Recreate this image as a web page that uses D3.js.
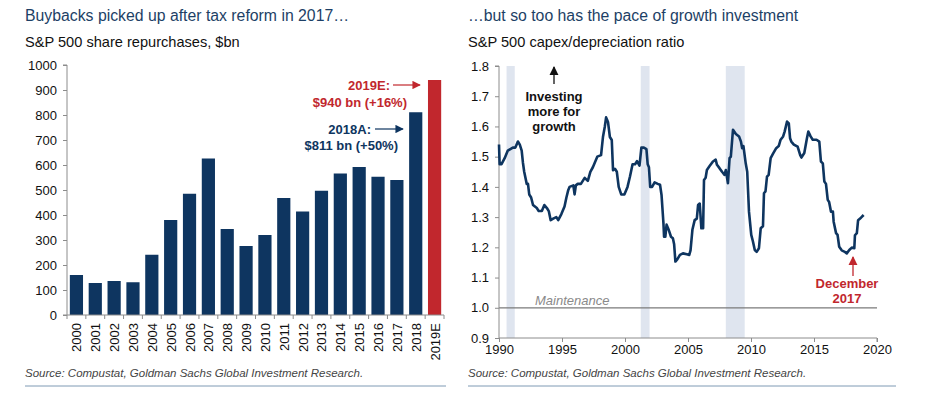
<!DOCTYPE html>
<html>
<head>
<meta charset="utf-8">
<script src="https://cdn.jsdelivr.net/npm/d3@7"></script>
<style>
  body { margin: 0; background: #fff; font-family: "Liberation Sans", Arial, sans-serif; }
  .axis path, .axis line { stroke: #8c8c8c; }
  .axis text { font-family: "Liberation Sans", Arial, sans-serif; font-size: 13px; fill: #111; }
  .title { font-size: 15.8px; fill: #1d3f66; }
  .subtitle { font-size: 14.6px; fill: #111; }
  .source { font-size: 11.5px; font-style: italic; fill: #444; }
  .note { font-size: 13px; font-weight: bold; }
</style>
</head>
<body>
<div id="vis"></div>
<script>
// Left chart data: S&P 500 buybacks, $bn
var buybackYears = ['2000', '2001', '2002', '2003', '2004', '2005', '2006', '2007', '2008', '2009',
    '2010', '2011', '2012', '2013', '2014', '2015', '2016', '2017', '2018', '2019E'];
var buybackValues = [160, 128, 136, 131, 241, 380, 485, 626, 344, 276,
    320, 468, 414, 497, 566, 592, 553, 540, 811, 940];
var buybackTicks = [0, 100, 200, 300, 400, 500, 600, 700, 800, 900, 1000];

// Right chart data: capex/depreciation ratio
var capexDates = [1990.0, 1990.05, 1990.2, 1990.45, 1990.7, 1991.1, 1991.3, 1991.5, 1991.65, 1991.8, 1991.9,
    1992.0, 1992.2, 1992.3, 1992.4, 1992.55, 1992.7, 1993.0, 1993.15, 1993.4, 1993.6, 1993.8, 1993.95,
    1994.1, 1994.3, 1994.55, 1994.7, 1994.95, 1995.2, 1995.35, 1995.5, 1995.6, 1995.9, 1996.0, 1996.1,
    1996.25, 1996.5, 1996.8, 1997.05, 1997.25, 1997.45, 1997.6, 1997.8, 1998.1, 1998.25, 1998.4, 1998.5,
    1998.65, 1998.8, 1998.95, 1999.05, 1999.2, 1999.35, 1999.5, 1999.7, 1999.95, 2000.2, 2000.4, 2000.6,
    2000.8, 2000.95, 2001.15, 2001.3, 2001.5, 2001.7, 2001.8, 2001.9, 2002.0, 2002.15, 2002.35, 2002.6,
    2002.78, 2002.9, 2003.05, 2003.1, 2003.2, 2003.3, 2003.45, 2003.65, 2003.8, 2003.9, 2004.0, 2004.15,
    2004.36, 2004.6, 2004.9, 2005.1, 2005.2, 2005.35, 2005.53, 2005.7, 2005.8, 2005.93, 2006.06, 2006.2,
    2006.27, 2006.4, 2006.5, 2006.7, 2006.98, 2007.2, 2007.3, 2007.5, 2007.7, 2007.9, 2008.0, 2008.17,
    2008.3, 2008.4, 2008.57, 2008.8, 2009.05, 2009.2, 2009.3, 2009.4, 2009.58, 2009.7, 2009.84, 2010.02,
    2010.15, 2010.3, 2010.45, 2010.63, 2010.77, 2010.95, 2011.03, 2011.15, 2011.27, 2011.4, 2011.56,
    2011.75, 2012.0, 2012.2, 2012.35, 2012.55, 2012.67, 2012.86, 2013.0, 2013.1, 2013.2, 2013.4, 2013.7,
    2013.9, 2014.0, 2014.23, 2014.44, 2014.55, 2014.73, 2014.9, 2015.2, 2015.42, 2015.55, 2015.7, 2015.82,
    2015.95, 2016.09, 2016.2, 2016.35, 2016.5, 2016.56, 2016.75, 2016.87, 2017.0, 2017.2, 2017.4, 2017.6,
    2017.8, 2018.0, 2018.2, 2018.25, 2018.4, 2018.5, 2018.73, 2018.94];
var capexRatio = [1.54, 1.475, 1.475, 1.495, 1.52, 1.53, 1.53, 1.55, 1.54, 1.52, 1.48,
    1.45, 1.41, 1.41, 1.375, 1.365, 1.34, 1.33, 1.32, 1.32, 1.34, 1.33, 1.32,
    1.29, 1.295, 1.30, 1.29, 1.31, 1.335, 1.365, 1.39, 1.40, 1.405, 1.375, 1.405,
    1.41, 1.41, 1.43, 1.42, 1.45, 1.465, 1.48, 1.50, 1.505, 1.565, 1.60, 1.63,
    1.615, 1.565, 1.555, 1.455, 1.46, 1.45, 1.40, 1.375, 1.375, 1.40, 1.435, 1.475,
    1.475, 1.485, 1.47, 1.53, 1.53, 1.525, 1.475, 1.465, 1.40, 1.40, 1.415, 1.41,
    1.407, 1.373, 1.28, 1.235, 1.235, 1.275, 1.26, 1.235, 1.23, 1.21, 1.153, 1.16,
    1.175, 1.18, 1.177, 1.175, 1.19, 1.258, 1.29, 1.295, 1.34, 1.345, 1.263, 1.263,
    1.423, 1.43, 1.456, 1.468, 1.484, 1.49, 1.473, 1.462, 1.45, 1.44, 1.456, 1.412,
    1.495, 1.50, 1.589, 1.575, 1.567, 1.55, 1.528, 1.535, 1.478, 1.45, 1.318, 1.241,
    1.22, 1.191, 1.185, 1.197, 1.263, 1.27, 1.379, 1.385, 1.434, 1.44, 1.495,
    1.51, 1.528, 1.535, 1.556, 1.567, 1.583, 1.616, 1.61, 1.561, 1.55, 1.54, 1.533,
    1.506, 1.497, 1.512, 1.561, 1.583, 1.567, 1.556, 1.556, 1.55, 1.484, 1.478, 1.418,
    1.41, 1.357, 1.35, 1.318, 1.318, 1.285, 1.247, 1.241, 1.202, 1.19, 1.186, 1.18,
    1.191, 1.199, 1.197, 1.24, 1.247, 1.29, 1.298, 1.307];
var recessions = [[1990.6, 1991.25], [2001.25, 2001.95], [2008.0, 2009.5]];
var ratioTicks = [0.9, 1.0, 1.1, 1.2, 1.3, 1.4, 1.5, 1.6, 1.7, 1.8];
var yearTicks = [1990, 1995, 2000, 2005, 2010, 2015, 2020];

var navy = '#0e3560';
var red = '#c1272d';

var width = 929;
var height = 394;

var svg = d3.select('#vis')
    .append('svg')
    .attr('width', width)
    .attr('height', height);

// Arrow heads
var defs = svg.append('defs');
[['arrowNavy', navy], ['arrowRed', red], ['arrowBlack', '#111']].forEach(function (a) {
    defs.append('marker')
        .attr('id', a[0])
        .attr('viewBox', '0 0 10 10')
        .attr('refX', 9).attr('refY', 5)
        .attr('markerWidth', 7).attr('markerHeight', 7)
        .attr('orient', 'auto')
        .append('path')
        .attr('d', 'M0,0 L10,5 L0,10 z')
        .attr('fill', a[1]);
});

// ---------- Left panel: buybacks bar chart ----------
var left = { x0: 67, x1: 444, yTop: 65, yBottom: 315 };

svg.append('text').attr('class', 'title').attr('x', 25).attr('y', 21)
    .text('Buybacks picked up after tax reform in 2017…');
svg.append('text').attr('class', 'subtitle').attr('x', 25).attr('y', 47)
    .text('S&P 500 share repurchases, $bn');

var xBand = d3.scaleBand()
    .domain(buybackYears)
    .range([left.x0, left.x1])
    .paddingInner(0.3)
    .paddingOuter(0.15);

var yBuy = d3.scaleLinear()
    .domain([0, 1000])
    .range([left.yBottom, left.yTop]);

svg.append('g')
    .attr('class', 'axis')
    .attr('transform', 'translate(' + left.x0 + ',0)')
    .call(d3.axisLeft(yBuy).tickValues(buybackTicks).tickSize(4).tickPadding(6).tickFormat(d3.format('d')))
    .call(function (g) { g.select('.domain').attr('d', 'M-4,' + left.yTop + 'H0V' + left.yBottom + 'H-4'); });

svg.selectAll('.bar')
    .data(buybackYears)
    .enter().append('rect')
    .attr('class', 'bar')
    .attr('x', function (d) { return xBand(d); })
    .attr('width', xBand.bandwidth())
    .attr('y', function (d, i) { return yBuy(buybackValues[i]); })
    .attr('height', function (d, i) { return left.yBottom - yBuy(buybackValues[i]); })
    .attr('fill', function (d) { return d === '2019E' ? red : navy; });

// x axis: baseline plus ticks at band boundaries
var xAxisG = svg.append('g').attr('class', 'axis');
xAxisG.append('line')
    .attr('x1', left.x0).attr('x2', left.x1)
    .attr('y1', left.yBottom).attr('y2', left.yBottom);
var step = xBand.step();
xAxisG.selectAll('.tk')
    .data(d3.range(buybackYears.length + 1))
    .enter().append('line')
    .attr('x1', function (i) { return left.x0 + i * step; })
    .attr('x2', function (i) { return left.x0 + i * step; })
    .attr('y1', left.yBottom).attr('y2', left.yBottom + 4);
xAxisG.selectAll('.lbl')
    .data(buybackYears)
    .enter().append('text')
    .attr('transform', function (d) {
        return 'translate(' + (xBand(d) + xBand.bandwidth() / 2 + 5) + ',' + (left.yBottom + 8) + ') rotate(-90)';
    })
    .attr('text-anchor', 'end')
    .text(function (d) { return d; });

// Annotations
var ann = svg.append('g').attr('class', 'note');
ann.append('text').attr('x', 390).attr('y', 90).attr('text-anchor', 'end').attr('fill', red).text('2019E:');
ann.append('text').attr('x', 407).attr('y', 107).attr('text-anchor', 'end').attr('fill', red).text('$940 bn (+16%)');
ann.append('line').attr('x1', 393).attr('x2', 420).attr('y1', 85).attr('y2', 85)
    .attr('stroke', red).attr('stroke-width', 1.2).attr('marker-end', 'url(#arrowRed)');
ann.append('text').attr('x', 371).attr('y', 134).attr('text-anchor', 'end').attr('fill', navy).text('2018A:');
ann.append('text').attr('x', 398).attr('y', 150).attr('text-anchor', 'end').attr('fill', navy).text('$811 bn (+50%)');
ann.append('line').attr('x1', 375).attr('x2', 403).attr('y1', 129).attr('y2', 129)
    .attr('stroke', navy).attr('stroke-width', 1.2).attr('marker-end', 'url(#arrowNavy)');

svg.append('text').attr('class', 'source').attr('x', 25).attr('y', 377)
    .text('Source: Compustat, Goldman Sachs Global Investment Research.');
svg.append('line').attr('x1', 25).attr('x2', 446).attr('y1', 386).attr('y2', 386)
    .attr('stroke', '#7f9ab4').attr('stroke-width', 1);

// ---------- Right panel: capex/depreciation line ----------
var right = { x0: 499, x1: 877, yTop: 66, yBottom: 338 };

svg.append('text').attr('class', 'title').attr('x', 468).attr('y', 21)
    .text('…but so too has the pace of growth investment');
svg.append('text').attr('class', 'subtitle').attr('x', 468).attr('y', 47)
    .text('S&P 500 capex/depreciation ratio');

var xYear = d3.scaleLinear().domain([1990, 2020]).range([right.x0, right.x1]);
var yRatio = d3.scaleLinear().domain([0.9, 1.8]).range([right.yBottom, right.yTop]);

svg.selectAll('.rec')
    .data(recessions)
    .enter().append('rect')
    .attr('class', 'rec')
    .attr('x', function (d) { return xYear(d[0]); })
    .attr('width', function (d) { return xYear(d[1]) - xYear(d[0]); })
    .attr('y', right.yTop)
    .attr('height', right.yBottom - right.yTop)
    .attr('fill', '#dfe5ef');

svg.append('line')
    .attr('x1', xYear(1990)).attr('x2', xYear(2020))
    .attr('y1', yRatio(1.0)).attr('y2', yRatio(1.0))
    .attr('stroke', '#7a7a7a').attr('stroke-width', 1.3);
svg.append('text')
    .attr('x', 535).attr('y', yRatio(1.0) - 3)
    .attr('font-size', 13).attr('font-style', 'italic').attr('fill', '#8a8a8a')
    .text('Maintenance');

svg.append('g')
    .attr('class', 'axis')
    .attr('transform', 'translate(' + right.x0 + ',0)')
    .call(d3.axisLeft(yRatio).tickValues(ratioTicks).tickSize(4).tickPadding(6).tickFormat(d3.format('.1f')))
    .call(function (g) { g.select('.domain').attr('d', 'M-4,' + right.yTop + 'H0V' + right.yBottom); });

svg.append('g')
    .attr('class', 'axis')
    .attr('transform', 'translate(0,' + right.yBottom + ')')
    .call(d3.axisBottom(xYear).tickValues(yearTicks).tickSize(4).tickPadding(3).tickFormat(d3.format('d')))
    .call(function (g) { g.select('.domain').attr('d', 'M' + right.x0 + ',0H' + right.x1 + 'V4'); });

var line = d3.line()
    .x(function (d, i) { return xYear(capexDates[i]); })
    .y(function (d) { return yRatio(d); });

svg.append('path')
    .datum(capexRatio)
    .attr('d', line)
    .attr('fill', 'none')
    .attr('stroke', navy)
    .attr('stroke-width', 2.6)
    .attr('stroke-linejoin', 'round');

// "Investing more for growth" note
var inv = svg.append('g').attr('class', 'note').attr('fill', '#111').attr('text-anchor', 'middle');
inv.append('line').attr('x1', 554).attr('x2', 554).attr('y1', 84).attr('y2', 67)
    .attr('stroke', '#111').attr('stroke-width', 1.3).attr('marker-end', 'url(#arrowBlack)');
inv.append('text').attr('x', 554).attr('y', 101).text('Investing');
inv.append('text').attr('x', 554).attr('y', 116).text('more for');
inv.append('text').attr('x', 554).attr('y', 131).text('growth');

// "December 2017" note
var dec = svg.append('g').attr('class', 'note').attr('fill', red).attr('text-anchor', 'middle');
dec.append('line').attr('x1', 853).attr('x2', 853).attr('y1', 276).attr('y2', 257)
    .attr('stroke', red).attr('stroke-width', 1.3).attr('marker-end', 'url(#arrowRed)');
dec.append('text').attr('x', 847).attr('y', 288).text('December');
dec.append('text').attr('x', 847).attr('y', 303).text('2017');

svg.append('text').attr('class', 'source').attr('x', 468).attr('y', 377)
    .text('Source: Compustat, Goldman Sachs Global Investment Research.');
svg.append('line').attr('x1', 468).attr('x2', 896).attr('y1', 386).attr('y2', 386)
    .attr('stroke', '#7f9ab4').attr('stroke-width', 1);
</script>
</body>
</html>
